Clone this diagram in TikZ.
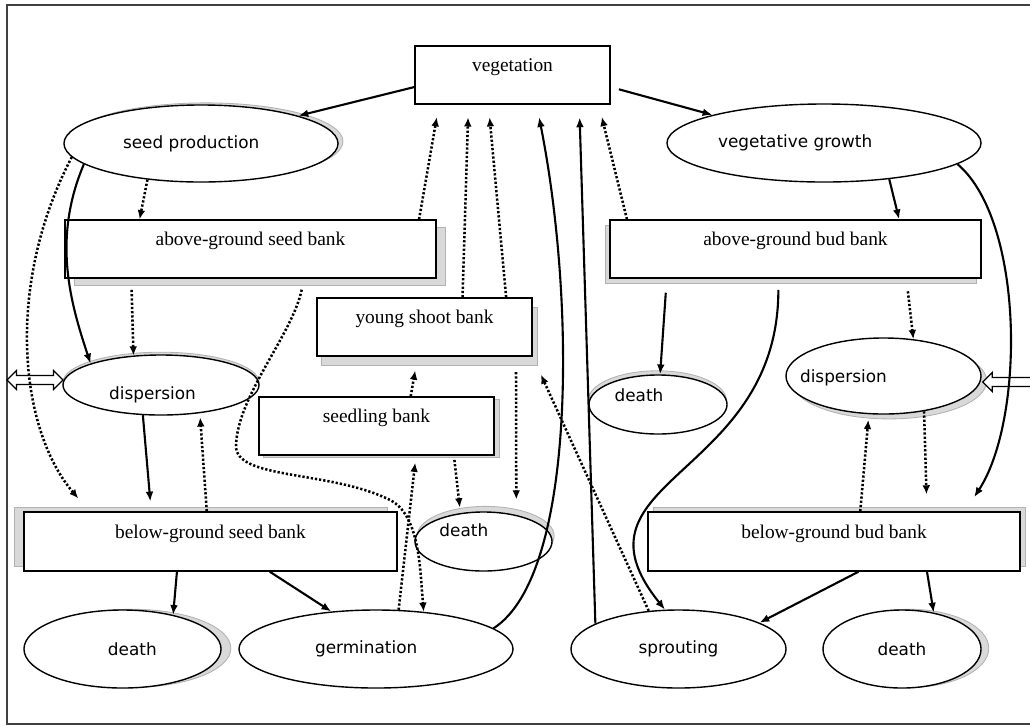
\documentclass[tikz,border=0pt]{standalone}
\usepackage{fontspec}
\setmainfont{Liberation Serif}
\newfontfamily\ellfont{DejaVu Sans}
\usetikzlibrary{arrows.meta,shapes.geometric,shapes.arrows,shadows}

\begin{document}
\begin{tikzpicture}[x=0.025cm,y=-0.025cm,
  box/.style={draw,line width=1pt,fill=white,inner sep=0pt,minimum height=1.45cm,text height=9pt,text depth=14pt,font=\fontsize{13.8}{16}\selectfont},
  ell/.style={draw,ellipse,line width=1pt,fill=white,inner sep=0pt},
  etxt/.style={font=\ellfont\fontsize{12}{14}\selectfont,inner sep=0pt},
  shd/.style 2 args={general shadow={shadow xshift=#1,shadow yshift=#2,fill=gray!30,draw=gray!60,line width=0.6pt}},
  sol/.style={-{Latex[length=7pt,width=5.5pt]},line width=1.5pt},
  dots/.style={-{Latex[length=6.5pt,width=5.5pt]},line width=1.8pt,dash pattern=on 1.6pt off 1.4pt},
  hollow/.style={draw,fill=white,line width=0.9pt,inner xsep=0pt,inner ysep=2.8pt}]
  \useasboundingbox (0,0) rectangle (1030,726);
  \draw[line width=1.2pt,gray!50!black] (1030,5) -- (7,5) -- (7,724) -- (1030,724);

  % banks and processes
  \node[box,minimum width=4.875cm] (veg) at (512.5,75) {vegetation};
  \node[ell,shd={3.5pt}{1.5pt},minimum width=6.85cm,minimum height=1.925cm,label={[etxt,xshift=-7pt]center:seed production}] (seedp) at (201,143.5) {};
  \node[ell,minimum width=7.85cm,minimum height=1.95cm,label={[etxt,xshift=-20.5pt]center:vegetative growth}] (veggr) at (824,143) {};
  \node[box,shd={6.5pt}{-5pt},minimum width=9.275cm] (aseed) at (250.5,249) {above-ground seed bank};
  \node[box,shd={-3pt}{-4pt},minimum width=9.275cm] (abud) at (795.5,249) {above-ground bud bank};
  \node[box,shd={3.5pt}{-6.5pt},minimum width=5.375cm] (young) at (424.5,327) {young shoot bank};
  \node[box,shd={3.5pt}{-2pt},minimum width=5.875cm] (seedl) at (376.5,426) {seedling bank};
  \node[ell,shd={0pt}{2pt},minimum width=4.9cm,minimum height=1.5cm,label={[etxt,xshift=-6pt,yshift=-7pt]center:dispersion}] (dispL) at (161,385) {};
  \node[ell,shd={4pt}{-3.5pt},minimum width=4.875cm,minimum height=1.9cm,label={[etxt,xshift=-28.5pt,yshift=-1.5pt]center:dispersion}] (dispR) at (883.5,376) {};
  \node[ell,shd={1.5pt}{4pt},minimum width=3.425cm,minimum height=1.475cm,label={[etxt,xshift=-14pt,yshift=8pt]center:death}] (deathM) at (483.5,541.5) {};
  \node[ell,shd={-0.5pt}{3pt},minimum width=3.45cm,minimum height=1.475cm,label={[etxt,xshift=-13.5pt,yshift=6.5pt]center:death}] (deathU) at (658,404.5) {};
  \node[box,shd={-6.5pt}{3pt},minimum width=9.325cm,minimum height=1.475cm] (bseed) at (210.5,541.5) {below-ground seed bank};
  \node[box,shd={4pt}{3pt},minimum width=9.3cm,minimum height=1.475cm] (bbud) at (834,541.5) {below-ground bud bank};
  \node[ell,shd={7pt}{0.5pt},minimum width=4.925cm,minimum height=1.95cm,label={[etxt,xshift=7pt]center:death}] (deathL) at (122.5,649) {};
  \node[ell,minimum width=6.85cm,minimum height=1.95cm,label={[etxt,xshift=-7pt]center:germination}] (germ) at (376,649) {};
  \node[ell,minimum width=5.375cm,minimum height=1.95cm,label={[etxt]center:sprouting}] (sprout) at (678.5,649) {};
  \node[ell,shd={5.5pt}{0.5pt},minimum width=3.95cm,minimum height=1.95cm,label={[etxt]center:death}] (deathR) at (902,649) {};

  % exchange across the border
  \node[hollow,double arrow,double arrow head extend=3.5pt,minimum height=1.4cm] (inL) at (35,380) {};
  \node[hollow,single arrow,shape border rotate=180,single arrow head extend=3.5pt,minimum height=1.4cm] (inR) at (1013,382) {};

  % seed side
  \draw[sol] (veg.187) -- (seedp.north east);
  \draw[dots] (seedp.214) -- (aseed.165);
  \draw[sol] (seedp.190) .. controls +(-32,75) and +(-20,-60) .. (dispL.163);
  \draw[dots,shorten >=12pt] (seedp.186) .. controls +(-67,128) and +(-70,-82) .. (bseed.166);
  \draw[dots,shorten <=8pt] (aseed.194) -- (dispL.133);
  \draw[dots,shorten >=9pt] (aseed.10) -- (veg.202);
  \draw[dots,shorten <=8pt] (aseed.-29) .. controls (292,335) and (238,395) .. (236,445) .. controls (234,480) and (330,470) .. (390,500) .. controls (420,515) and (420,570) .. (germ.38);
  \draw[sol,shorten >=7pt] (dispL.239) -- (bseed.153);
  \draw[dots,shorten >=3pt] (bseed.97) -- (dispL.-36);
  \draw[sol] (bseed.222) -- (deathL.34);
  \draw[sol] (bseed.-27) -- (germ.140);
  \draw[dots,shorten >=5pt] (germ.60) -- (seedl.-37);
  \draw[dots,shorten <=3pt,shorten >=4pt] (seedl.-21) -- (deathM.129);
  \draw[dots,shorten >=10pt] (seedl.41) -- (young.257);
  \draw[dots,shorten <=11pt,shorten >=11pt] (young.-18) -- (deathM.39);
  \draw[dots,shorten >=9pt] (young.38) -- (veg.214);
  \draw[dots,shorten >=9pt] (young.20) -- (veg.231);
  \draw[sol,shorten >=9pt] (germ.10) .. controls +(83,-53) and +(39,196) .. (veg.-51);

  % bud side
  \draw[sol,shorten <=6pt] (veg.-7) -- (veggr.north west);
  \draw[sol,shorten >=9pt] (sprout.163) -- (veg.-24);
  \draw[dots,shorten >=9pt] (abud.170) -- (veg.-19);
  \draw[dots,shorten >=14pt] (sprout.128) -- (young.south east);
  \draw[sol] (veggr.-29) -- (abud.16);
  \draw[sol,shorten >=12pt] (veggr.-9) .. controls +(67,57) and +(60,-92) .. (bbud.13);
  \draw[sol,shorten <=10pt] (abud.193) -- (deathU.86);
  \draw[sol,shorten <=8pt] (abud.240) .. controls +(0,200) and +(-105,-130) .. (sprout.109);
  \draw[dots,shorten <=9pt] (abud.-15) -- (dispR.51);
  \draw[dots,shorten >=4pt] (bbud.49) -- (dispR.249);
  \draw[dots,shorten >=12pt] (dispR.-41) -- (bbud.18);
  \draw[sol] (bbud.-51) -- (sprout.18);
  \draw[sol] (bbud.-18) -- (deathR.49);
\end{tikzpicture}
\end{document}
